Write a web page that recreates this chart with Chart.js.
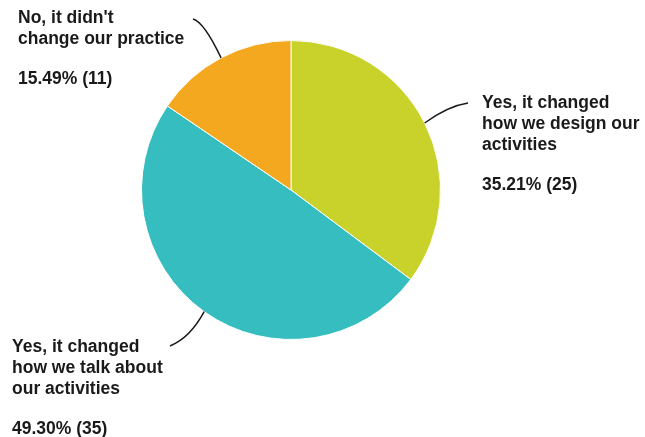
<!DOCTYPE html>
<html>
<head>
<meta charset="utf-8">
<script src="https://cdn.jsdelivr.net/npm/chart.js@4"></script>
<style>
  html, body { margin: 0; padding: 0; background: #fff; }
  #wrap { width: 645px; height: 437px; }
</style>
</head>
<body>
<div id="wrap"><canvas id="pieChart" width="645" height="437"></canvas></div>
<script>
// answers, in clockwise order from 12 o'clock
var answers = [
    ["Yes, it changed", "how we design our", "activities"],
    ["Yes, it changed", "how we talk about", "our activities"],
    ["No, it didn't", "change our practice"]
];
var counts = [25, 35, 11];
var shares = ["35.21%", "49.30%", "15.49%"];
var sliceColors = ["#C9D22B", "#35BDC0", "#F4A81F"];

// where each label block sits, and where its leader line ends / bends
var labelSpots = [
    { x: 482, y: 103, lineEnd: [468, 103], bend: [448, 106] },
    { x: 12, y: 347, lineEnd: [170, 346], bend: [190, 338] },
    { x: 18, y: 18, lineEnd: [193, 19], bend: [204, 22] }
];

var calloutPlugin = {
    id: "callouts",
    afterDatasetsDraw: function(chart) {
        var ctx = chart.ctx;
        var arcs = chart.getDatasetMeta(0).data;
        ctx.save();
        ctx.font = "bold 17.5px 'Liberation Sans', Arial, sans-serif";
        ctx.fillStyle = "#1a1a1a";
        ctx.textBaseline = "middle";
        ctx.textAlign = "left";
        arcs.forEach(function(arc, i) {
            var spot = labelSpots[i];
            var mid = (arc.startAngle + arc.endAngle) / 2;
            var sx = arc.x + Math.cos(mid) * arc.outerRadius;
            var sy = arc.y + Math.sin(mid) * arc.outerRadius;

            ctx.strokeStyle = "#1a1a1a";
            ctx.lineWidth = 1.5;
            ctx.beginPath();
            ctx.moveTo(sx, sy);
            ctx.quadraticCurveTo(spot.bend[0], spot.bend[1], spot.lineEnd[0], spot.lineEnd[1]);
            ctx.stroke();

            var lines = answers[i];
            var y = spot.y;
            lines.forEach(function(t) {
                ctx.fillText(t, spot.x, y);
                y += 21;
            });
            y += 19;
            ctx.fillText(shares[i] + " (" + counts[i] + ")", spot.x, y);
        });
        ctx.restore();
    }
};

new Chart("pieChart", {
    type: "pie",
    data: {
        labels: answers.map(function(a) { return a.join(" "); }),
        datasets: [{
            data: counts,
            backgroundColor: sliceColors,
            borderColor: "#ffffff",
            borderWidth: 1,
            hoverOffset: 0
        }]
    },
    options: {
        responsive: false,
        animation: false,
        layout: {
            padding: { left: 141, right: 204, top: 40, bottom: 97 }
        },
        plugins: {
            legend: { display: false },
            tooltip: { enabled: false },
            title: { display: false }
        }
    },
    plugins: [calloutPlugin]
});
</script>
</body>
</html>
